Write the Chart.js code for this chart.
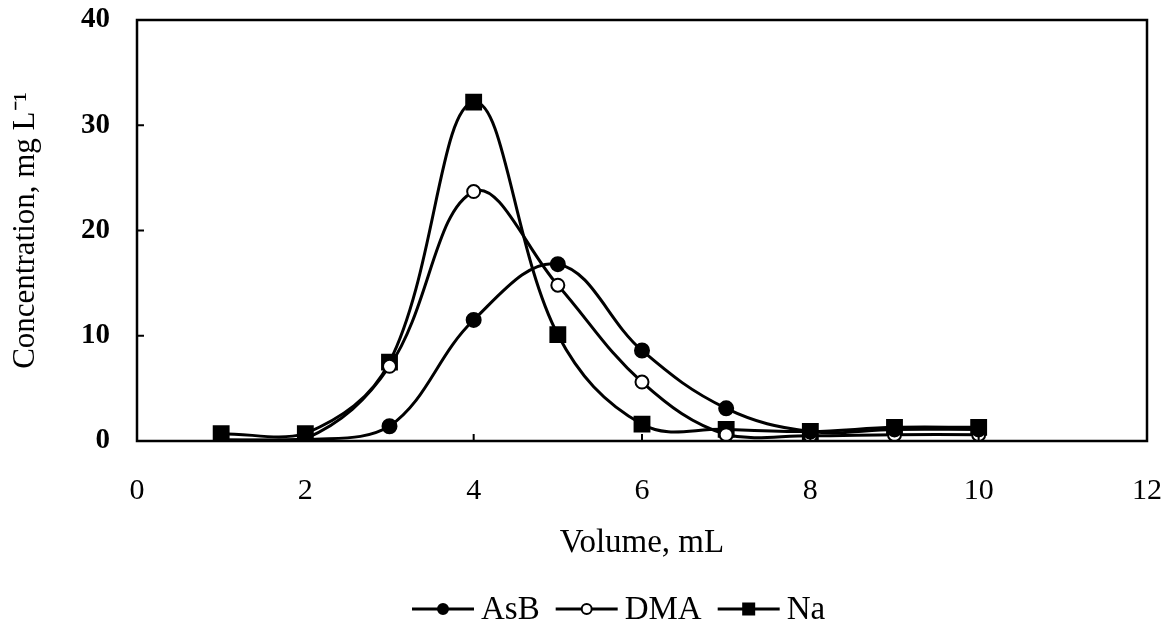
<!DOCTYPE html>
<html>
<head>
<meta charset="utf-8">
<script src="https://cdn.jsdelivr.net/npm/chart.js@4.4.1/dist/chart.umd.min.js"></script>
<style>
  html, body { margin: 0; padding: 0; background: #fff; }
  #wrap { width: 1174px; height: 622px; position: relative; }
</style>
</head>
<body>
<div id="wrap"><canvas id="chart"></canvas></div>
<script>
// data
var volumes = [1, 2, 3, 4, 5, 6, 7, 8, 9, 10];
var asbConc = [0.1, 0.1, 1.4, 11.5, 16.8, 8.6, 3.1, 0.9, 1.1, 1.1];
var dmaConc = [0.1, 0.2, 7.1, 23.7, 14.8, 5.6, 0.6, 0.5, 0.6, 0.6];
var naConc  = [0.7, 0.7, 7.5, 32.2, 10.1, 1.6, 1.1, 0.9, 1.3, 1.3];
var xTicks = [0, 2, 4, 6, 8, 10, 12];
var yTicks = [0, 10, 20, 30, 40];

var FONT = "'Liberation Serif', 'Times New Roman', serif";

function pts(ys) {
    return volumes.map(function (v, i) { return { x: v, y: ys[i] }; });
}

// frame + inward ticks
var framePlugin = {
    id: 'frame',
    afterDatasetsDraw: function (chart) {
        var ctx = chart.ctx, a = chart.chartArea;
        var xs = chart.scales.x, ys = chart.scales.y;
        ctx.save();
        ctx.strokeStyle = '#000';
        ctx.lineWidth = 2.5;
        ctx.strokeRect(a.left, a.top, a.right - a.left, a.bottom - a.top);
        ctx.lineWidth = 2;
        ctx.beginPath();
        xTicks.forEach(function (t) {
            var px = xs.getPixelForValue(t);
            ctx.moveTo(px, a.bottom);
            ctx.lineTo(px, a.bottom - 7);
        });
        yTicks.forEach(function (t) {
            var py = ys.getPixelForValue(t);
            ctx.moveTo(a.left, py);
            ctx.lineTo(a.left + 7, py);
        });
        ctx.stroke();
        ctx.restore();
    }
};

// legend drawn as line-through-marker entries
var legendPlugin = {
    id: 'lineLegend',
    afterDraw: function (chart) {
        var ctx = chart.ctx;
        var y = 609;
        var x = 412;
        ctx.save();
        ctx.font = '33px ' + FONT;
        ctx.textBaseline = 'middle';
        chart.data.datasets.forEach(function (ds) {
            ctx.strokeStyle = '#000';
            ctx.lineWidth = 3;
            ctx.beginPath();
            ctx.moveTo(x, y);
            ctx.lineTo(x + 62, y);
            ctx.stroke();
            var cx = x + 31;
            ctx.lineWidth = 2;
            ctx.fillStyle = ds.pointBackgroundColor;
            ctx.beginPath();
            if (ds.pointStyle === 'rect') {
                ctx.rect(cx - 5.5, y - 5.5, 11, 11);
            } else {
                ctx.arc(cx, y, 5, 0, Math.PI * 2);
            }
            ctx.fill();
            ctx.stroke();
            ctx.fillStyle = '#000';
            ctx.fillText(ds.label, x + 69, y + 1);
            x += 69 + ctx.measureText(ds.label).width + 16;
        });
        ctx.restore();
    }
};

var common = {
    borderColor: '#000',
    borderWidth: 3,
    tension: 0.38,
    pointBorderColor: '#000',
    pointBorderWidth: 2,
    fill: false
};

new Chart(document.getElementById('chart'), {
    type: 'line',
    data: {
        datasets: [
            Object.assign({ label: 'AsB', data: pts(asbConc), pointStyle: 'circle', pointRadius: 7, pointBackgroundColor: '#000' }, common),
            Object.assign({ label: 'DMA', data: pts(dmaConc), pointStyle: 'circle', pointRadius: 6.5, pointBackgroundColor: '#fff' }, common),
            Object.assign({ label: 'Na', data: pts(naConc), pointStyle: 'rect', pointRadius: 10.5, pointBackgroundColor: '#000' }, common)
        ]
    },
    options: {
        responsive: true,
        maintainAspectRatio: false,
        animation: false,
        layout: { padding: { left: 7, right: 27, top: 20, bottom: 59 } },
        plugins: {
            legend: { display: false },
            tooltip: { enabled: false }
        },
        scales: {
            x: {
                type: 'linear',
                min: 0, max: 12,
                afterBuildTicks: function (s) { s.ticks = xTicks.map(function (v) { return { value: v }; }); },
                grid: { display: false },
                border: { display: false },
                ticks: { color: '#000', padding: 24, font: { family: FONT, size: 30 }, maxRotation: 0 },
                title: { display: true, text: 'Volume, mL', color: '#000', padding: { top: 0, bottom: 0 }, font: { family: FONT, size: 33 } },
                afterFit: function (s) { s.height = 122; s.paddingLeft = 0; s.paddingRight = 0; }
            },
            y: {
                min: 0, max: 40,
                afterBuildTicks: function (s) { s.ticks = yTicks.map(function (v) { return { value: v }; }); },
                grid: { display: false },
                border: { display: false },
                ticks: { color: '#000', padding: 19, font: { family: FONT, size: 29, weight: 'bold' } },
                title: { display: true, text: 'Concentration, mg L\u207B\u00B9', color: '#000', padding: { top: 0, bottom: 0 }, font: { family: FONT, size: 31 } },
                afterFit: function (s) { s.width = 130; s.paddingTop = 0; s.paddingBottom = 0; }
            }
        }
    },
    plugins: [framePlugin, legendPlugin]
});
</script>
</body>
</html>
